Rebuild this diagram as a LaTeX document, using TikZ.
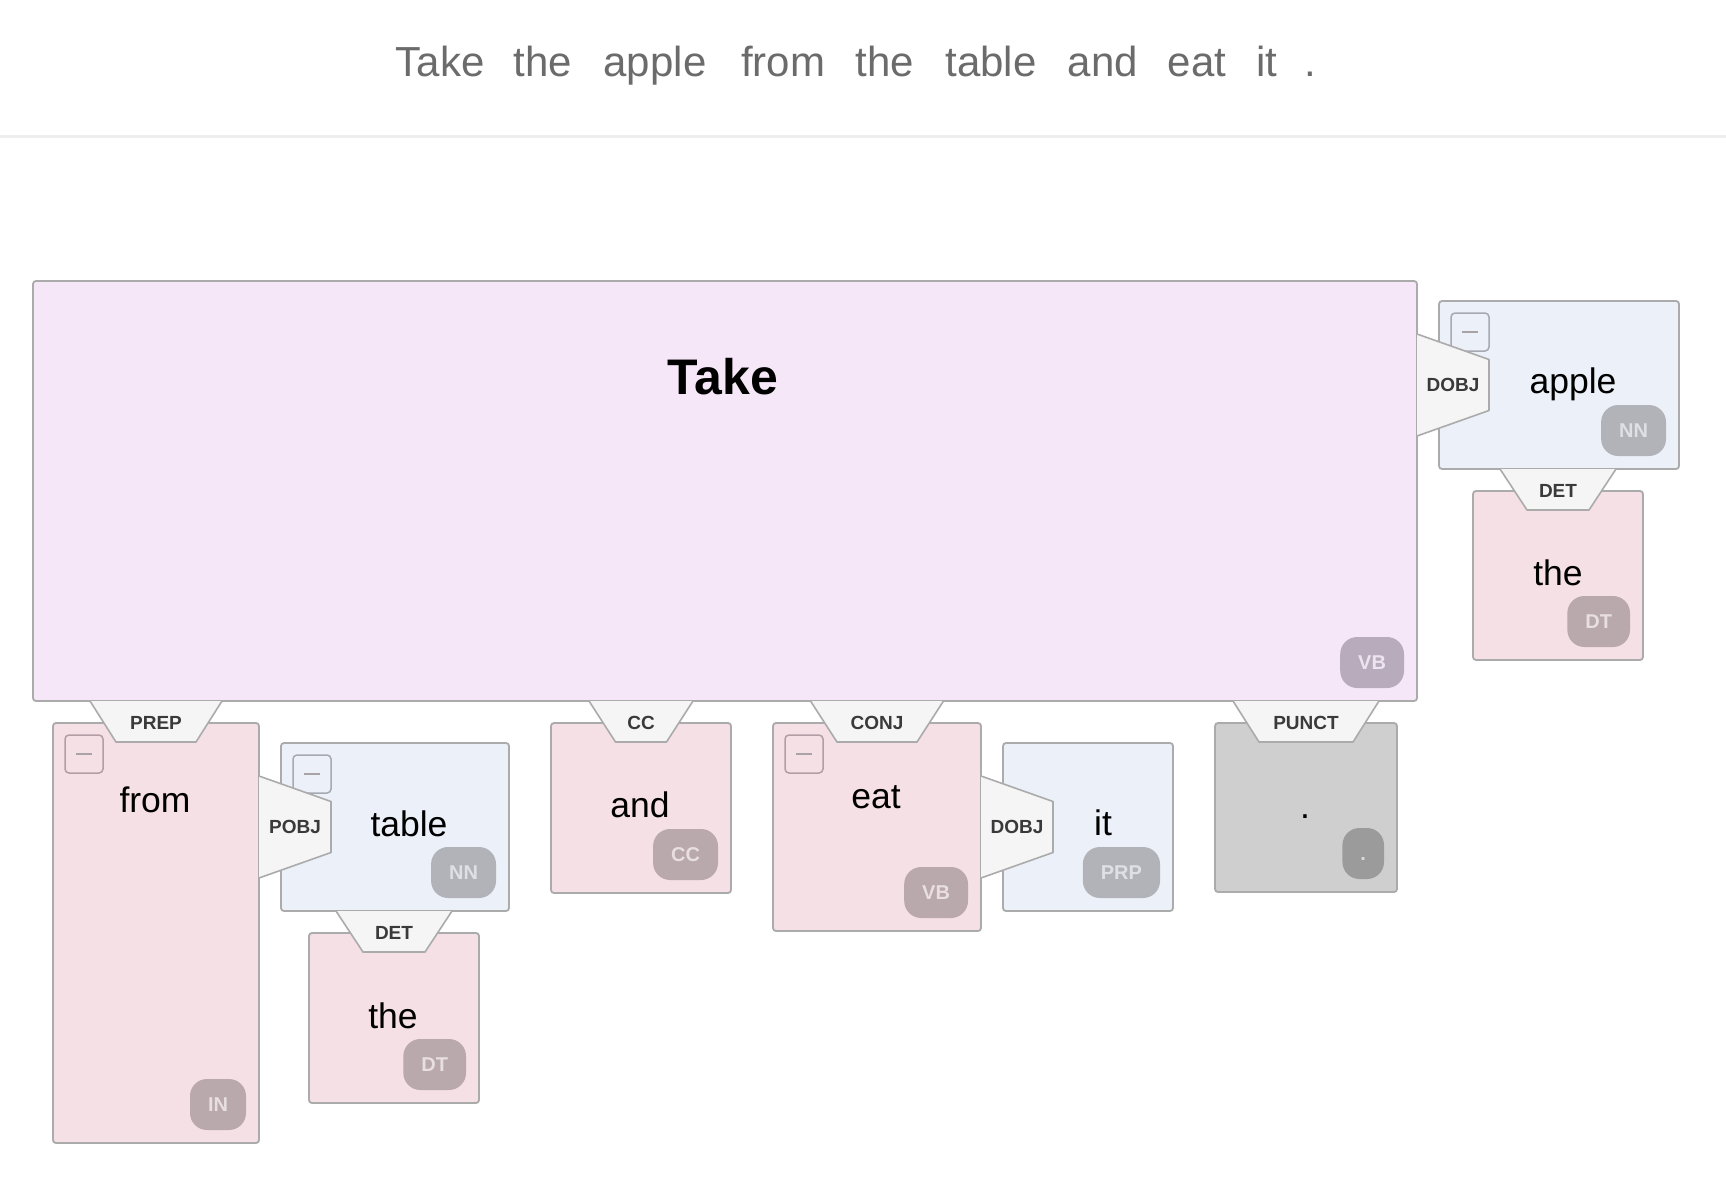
\documentclass[tikz,border=0pt]{standalone}
\usepackage{fontspec}
\setmainfont{Liberation Sans}
\usetikzlibrary{calc}
\definecolor{bordc}{HTML}{ABABAB}
\definecolor{takefill}{HTML}{F5E7F8}
\definecolor{pinkfill}{HTML}{F5E0E6}
\definecolor{bluefill}{HTML}{ECF0F8}
\definecolor{grayfill}{HTML}{CFCFCF}
\definecolor{tabfillc}{HTML}{F5F5F5}
\definecolor{labelc}{HTML}{3A3A3A}
\definecolor{titlec}{HTML}{6B6B6B}
\definecolor{sepc}{HTML}{EEEEEE}
\definecolor{bTake}{HTML}{B8ACBC}
\definecolor{tTake}{HTML}{ECE4EF}
\definecolor{bPink}{HTML}{B9A8AC}
\definecolor{tPink}{HTML}{E8DFE2}
\definecolor{bBlue}{HTML}{B1B3B8}
\definecolor{tBlue}{HTML}{DEE0E4}
\definecolor{bGray}{HTML}{9B9B9B}
\definecolor{tGray}{HTML}{DADADA}
\definecolor{mPink}{HTML}{B49EA6}
\definecolor{mBlue}{HTML}{A6A9B1}
\definecolor{minusc}{HTML}{A9A2A6}

\newcommand\wbox[6]{\node[wboxst, fill=#6, minimum width={#4-#2}, minimum height={#5-#3}] (#1) at (#2,#3) {};}
\newcommand\minusbtn[2]{\node[minusst, draw=#2] (#1m) at ($(#1.north west)+(12,12)$) {};
  \draw[minusline] ($(#1m.center)+(-8,0)$) -- ($(#1m.center)+(8,0)$);}
\newcommand\badge[4]{\node[badgest, fill=#3, text=#4] (#1b) at ($(#1.south east)+(-13,-13)$) {#2};}
\newcommand\toptab[5]{%
  \coordinate (#2tt) at (#2.north |- #1.south);
  \coordinate (#2tb) at ($(#2.north)+(0,19)$);
  \fill[tabfillc] ($(#2tt)+(-#5,0)$) -- ($(#2tb)+(-#4,0)$) -- ($(#2tb)+(#4,0)$) -- ($(#2tt)+(#5,0)$) -- cycle;
  \draw[tabline] ($(#2tt)+(-#5,0)$) -- ($(#2tb)+(-#4,0)$) -- ($(#2tb)+(#4,0)$) -- ($(#2tt)+(#5,0)$);
  \node[tablabel] (#2lab) at ($(#2tt)!0.5!(#2tb)+(0,1)$) {#3};}
\newcommand\sidetab[3]{%
  \coordinate (#2sl) at (#1.east |- #2.west);
  \coordinate (#2sr) at ($(#2.west)+(50,0)$);
  \fill[tabfillc] ($(#2sl)+(0,-51)$) -- ($(#2sr)+(0,-25.5)$) -- ($(#2sr)+(0,25.5)$) -- ($(#2sl)+(0,51)$) -- cycle;
  \draw[tabline] ($(#2sl)+(0,-51)$) -- ($(#2sr)+(0,-25.5)$) -- ($(#2sr)+(0,25.5)$) -- ($(#2sl)+(0,51)$);
  \node[tablabel] (#2lab) at ($(#2sl)+(36,0)$) {#3};}

\begin{document}
\begin{tikzpicture}[x=1pt,y=-1pt,
  wboxst/.style={draw=bordc, line width=1.8pt, rounded corners=3pt, inner sep=0pt, outer sep=0pt, anchor=north west},
  minusst/.style={line width=1.5pt, rounded corners=4pt, minimum size=38pt, inner sep=0pt, outer sep=0pt, anchor=north west},
  minusline/.style={draw=minusc, line width=2pt},
  badgest/.style={anchor=south east, rounded corners=17pt, minimum height=51pt, inner xsep=18pt, inner ysep=0pt, outer sep=0pt,
    text height=14.3pt, text depth=0pt, font=\fontsize{20}{24}\selectfont\bfseries},
  tabline/.style={draw=bordc, line width=1.6pt, line join=round},
  tablabel/.style={inner sep=0pt, text height=13.6pt, text depth=0pt, text=labelc, font=\fontsize{19}{22}\selectfont\bfseries},
  wordst/.style={anchor=base, inner sep=0pt, font=\fontsize{35.5}{40}\selectfont},
  titleword/.style={anchor=base, inner sep=0pt, text=titlec, font=\fontsize{42}{48}\selectfont},
  sepline/.style={draw=sepc, line width=3pt}]
\useasboundingbox (0,0) rectangle (1726,1188);
\fill[white] (0,0) rectangle (1726,1188);

% title sentence
\foreach \w/\x [count=\i] in {Take/440, the/543, apple/655, from/783, the/885, table/991, and/1103, eat/1197, it/1267, ./1310}
  \node[titleword] (title\i) at (\x,77) {\w};
\draw[sepline] (0,137) -- (1726,137);

% boxes
\wbox{take}{33}{281}{1417}{701}{takefill}
\wbox{apple}{1439}{301}{1679}{469}{bluefill}
\wbox{theA}{1473}{491}{1643}{660}{pinkfill}
\wbox{from}{53}{723}{259}{1143}{pinkfill}
\wbox{table}{281}{743}{509}{911}{bluefill}
\wbox{theB}{309}{933}{479}{1103}{pinkfill}
\wbox{and}{551}{723}{731}{893}{pinkfill}
\wbox{eat}{773}{723}{981}{931}{pinkfill}
\wbox{it}{1003}{743}{1173}{911}{bluefill}
\wbox{dot}{1215}{723}{1397}{892}{grayfill}

% words
\node[wordst, font=\fontsize{50}{56}\selectfont\bfseries] (takew) at (723,394) {Take};
\node[wordst] (applew) at (1573,393) {apple};
\node[wordst] (theAw) at (1558,585) {the};
\node[wordst] (fromw) at (155,812) {from};
\node[wordst] (tablew) at (409,836) {table};
\node[wordst] (theBw) at (393,1028) {the};
\node[wordst] (andw) at (640,817) {and};
\node[wordst] (eatw) at (876,808) {eat};
\node[wordst] (itw) at (1103,835) {it};
\node[wordst] (dotw) at (1305,818) {.};

% minus buttons
\minusbtn{apple}{mBlue}
\minusbtn{from}{mPink}
\minusbtn{table}{mBlue}
\minusbtn{eat}{mPink}

% badges
\badge{take}{VB}{bTake}{tTake}
\badge{apple}{NN}{bBlue}{tBlue}
\badge{theA}{DT}{bPink}{tPink}
\badge{from}{IN}{bPink}{tPink}
\badge{table}{NN}{bBlue}{tBlue}
\badge{theB}{DT}{bPink}{tPink}
\badge{and}{CC}{bPink}{tPink}
\badge{eat}{VB}{bPink}{tPink}
\badge{it}{PRP}{bBlue}{tBlue}
\badge{dot}{.}{bGray}{tGray}

% dependency tabs
\sidetab{take}{apple}{DOBJ}
\toptab{apple}{theA}{DET}{31}{58}
\toptab{take}{from}{PREP}{40}{66}
\sidetab{from}{table}{POBJ}
\toptab{table}{theB}{DET}{31}{58}
\toptab{take}{and}{CC}{25.5}{52}
\toptab{take}{eat}{CONJ}{40}{66.5}
\sidetab{eat}{it}{DOBJ}
\toptab{take}{dot}{PUNCT}{47}{73}
\end{tikzpicture}
\end{document}
